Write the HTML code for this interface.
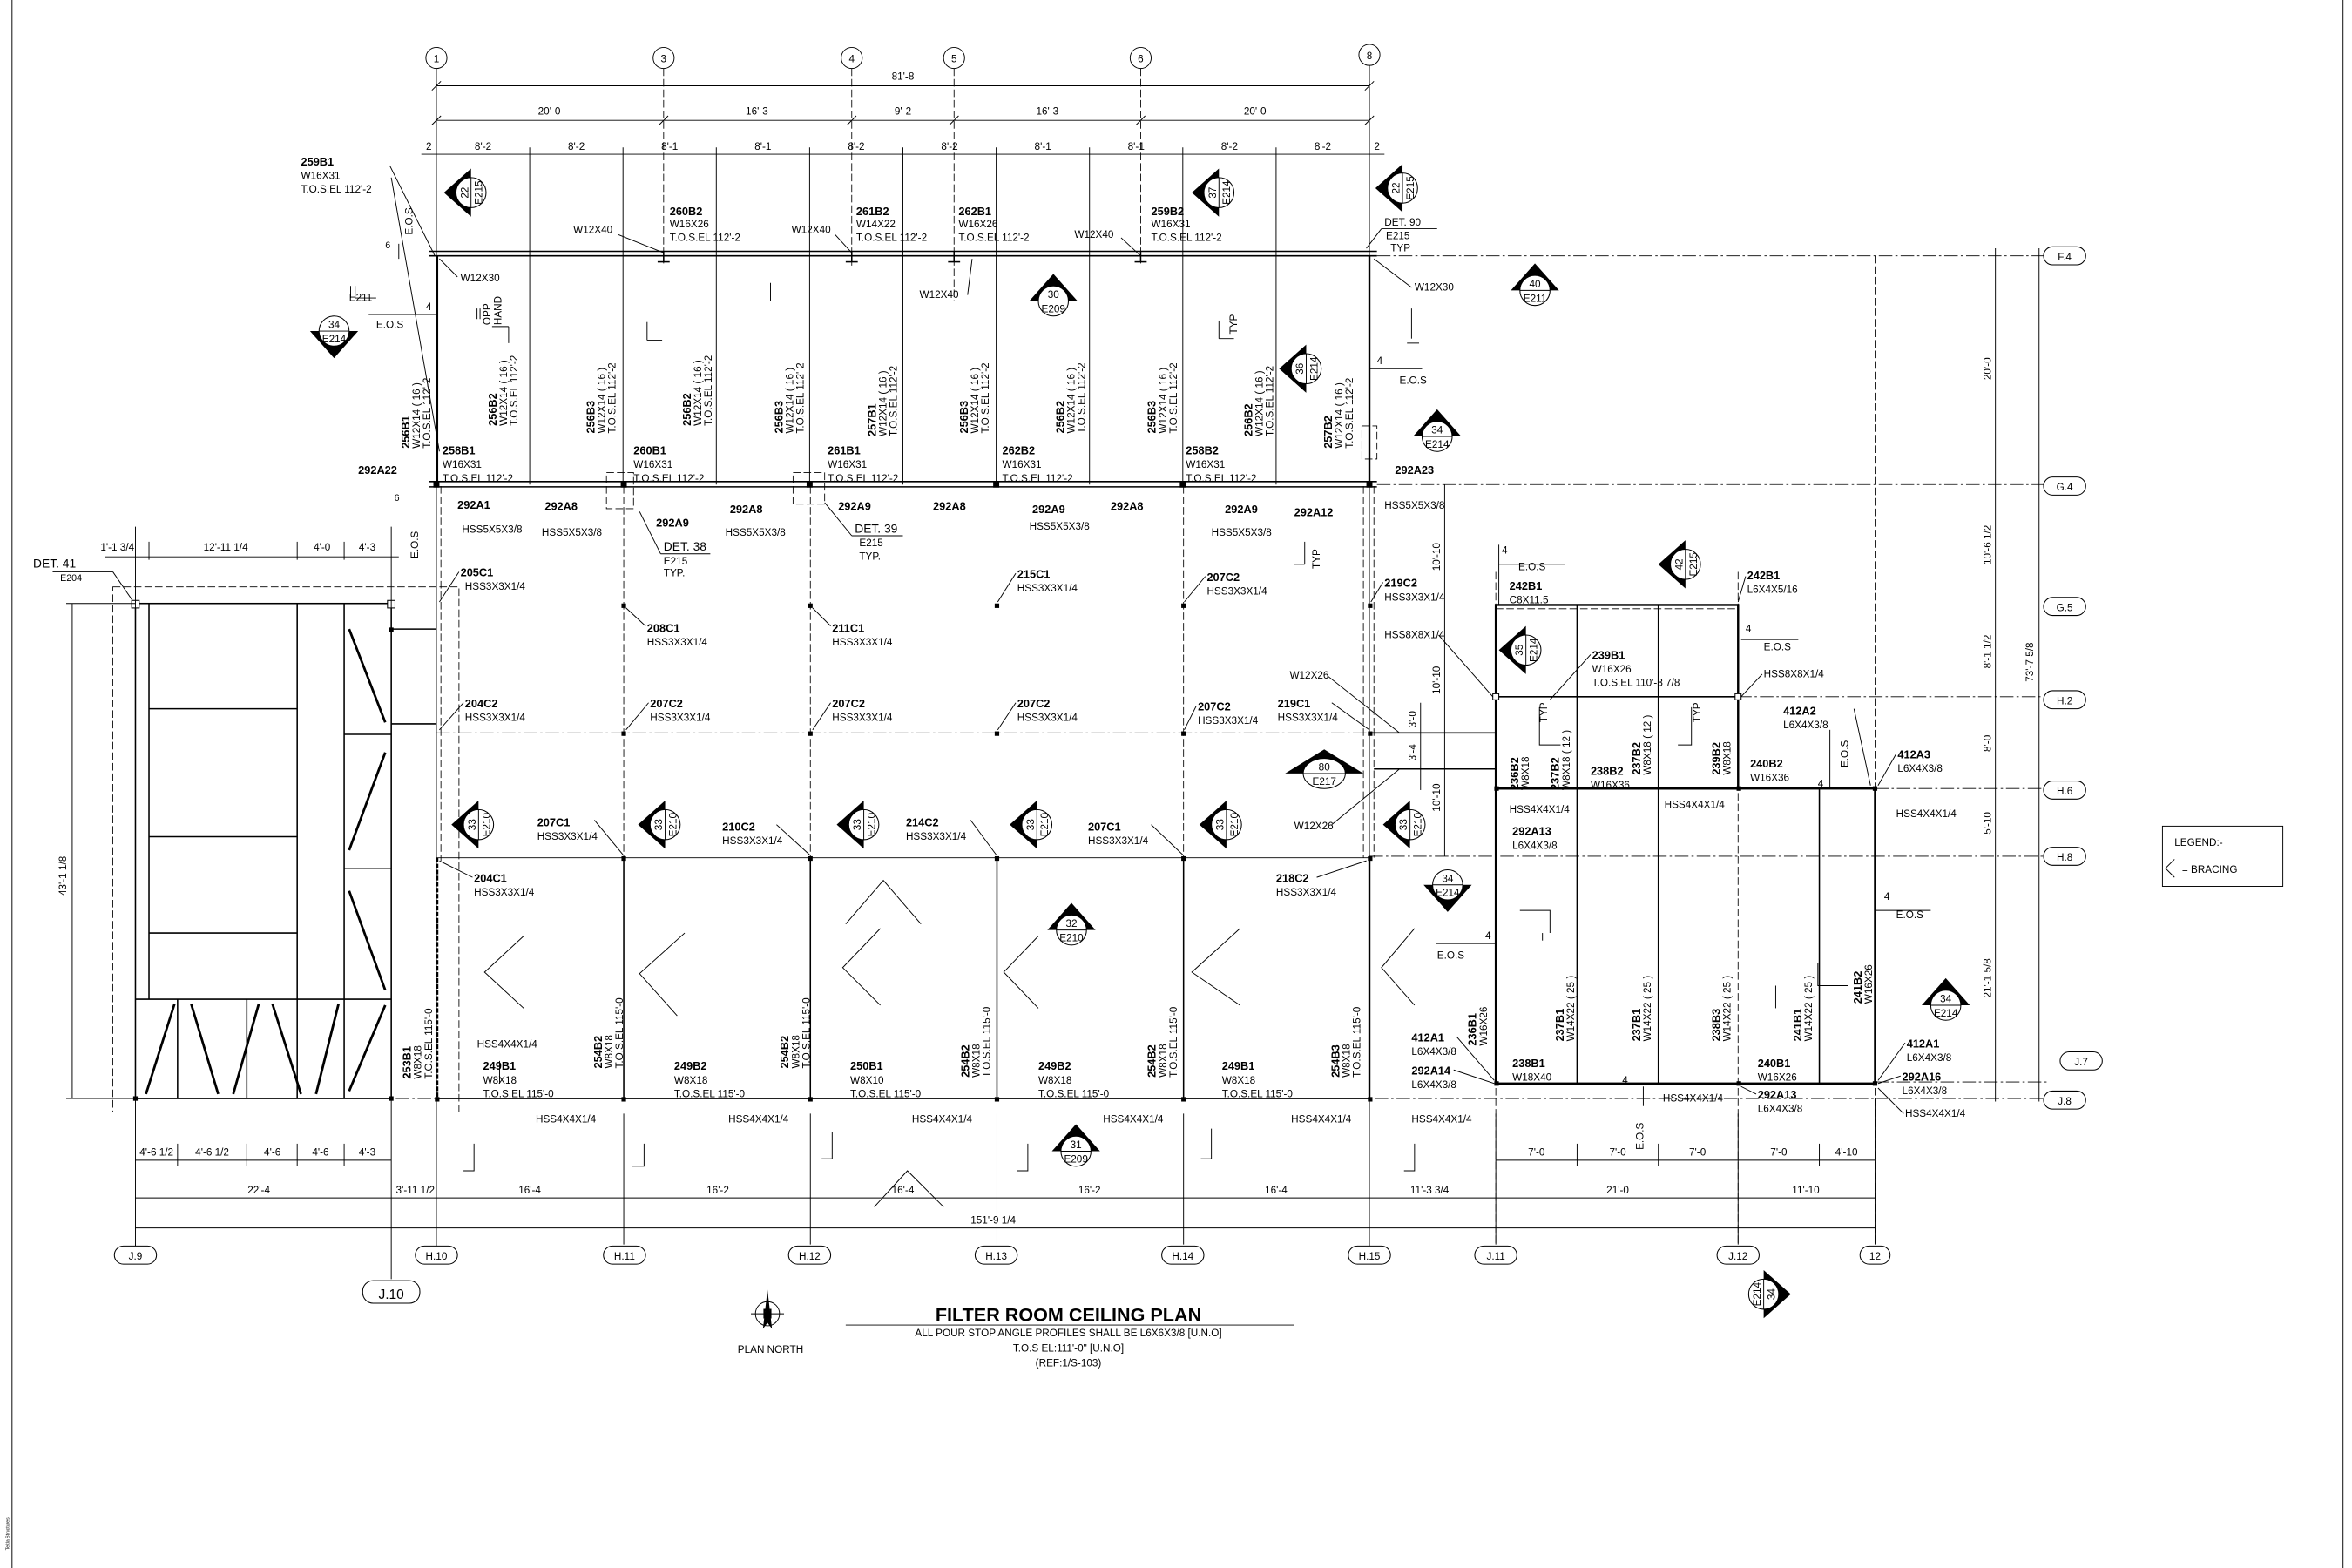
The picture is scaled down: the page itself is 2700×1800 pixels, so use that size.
<!DOCTYPE html>
<html><head><meta charset="utf-8">
<style>
html,body{margin:0;padding:0;background:#fff;}
svg{display:block;}
text{font-family:"Liberation Sans Narrow","Liberation Sans",sans-serif;fill:#000;}
.t{font-size:6.8px;}
.b{font-size:7.4px;font-weight:bold;}
.s{font-size:6.2px;}
.k{stroke:#000;fill:none;stroke-width:0.55;}
.h{stroke:#000;fill:none;stroke-width:1.4;}
.m{stroke:#000;fill:none;stroke-width:0.9;}
.d{stroke:#000;fill:none;stroke-width:0.5;stroke-dasharray:5 2;}
.dd{stroke:#000;fill:none;stroke-width:0.5;stroke-dasharray:9 2 1.5 2;}
.bub{fill:#fff;stroke:#000;stroke-width:0.6;}
</style></head>
<body>
<svg width="2700" height="1800" viewBox="0 0 2700 1800" xmlns="http://www.w3.org/2000/svg">
<rect width="2700" height="1800" fill="#fff"/>
<g transform="scale(1.7275)">
<line class="k" x1="8" y1="0" x2="8" y2="1042"/>
<line class="k" x1="1557" y1="0" x2="1557" y2="1042"/>
<text class="s" transform="translate(6,1030) rotate(-90)" style="font-size:3px">Tekla Structures</text>

<g class="k">
<circle cx="290" cy="38.5" r="7"/><circle cx="441" cy="38.5" r="7"/><circle cx="566" cy="38.5" r="7"/>
<circle cx="634" cy="38.5" r="7"/><circle cx="758" cy="38.5" r="7"/><circle cx="910" cy="36.5" r="7"/>
<line x1="290" y1="45.5" x2="290" y2="840"/>
<line x1="910" y1="43.5" x2="910" y2="840"/>
</g>
<g class="d">
<line x1="441" y1="45.5" x2="441" y2="175"/><line x1="566" y1="45.5" x2="566" y2="178"/>
<line x1="634" y1="45.5" x2="634" y2="200"/><line x1="758" y1="45.5" x2="758" y2="175"/>
</g>
<g class="t" text-anchor="middle">
<text x="290" y="41.5">1</text><text x="441" y="41.5">3</text><text x="566" y="41.5">4</text>
<text x="634" y="41.5">5</text><text x="758" y="41.5">6</text><text x="910" y="39.5">8</text>
</g>
<g class="k">
<line x1="290" y1="57" x2="910" y2="57"/>
<line x1="290" y1="80" x2="910" y2="80"/>
<line x1="280" y1="102.5" x2="920" y2="102.5"/>
<line x1="287" y1="60" x2="293" y2="54"/><line x1="907" y1="60" x2="913" y2="54"/>
<line x1="287" y1="83" x2="293" y2="77"/><line x1="438" y1="83" x2="444" y2="77"/><line x1="563" y1="83" x2="569" y2="77"/><line x1="631" y1="83" x2="637" y2="77"/><line x1="755" y1="83" x2="761" y2="77"/><line x1="907" y1="83" x2="913" y2="77"/>
</g>
<g class="t" text-anchor="middle">
<text x="600" y="53">81'-8</text>
<text x="365" y="76">20'-0</text><text x="503" y="76">16'-3</text><text x="600" y="76">9'-2</text><text x="696" y="76">16'-3</text><text x="834" y="76">20'-0</text>
<text x="321" y="99.5">8'-2</text><text x="383" y="99.5">8'-2</text><text x="445" y="99.5">8'-1</text><text x="507" y="99.5">8'-1</text><text x="569" y="99.5">8'-2</text><text x="631" y="99.5">8'-2</text><text x="693" y="99.5">8'-1</text><text x="755" y="99.5">8'-1</text><text x="817" y="99.5">8'-2</text><text x="879" y="99.5">8'-2</text>
<text x="285" y="99.5">2</text><text x="915" y="99.5">2</text>
</g>

<g class="k">
<line x1="352" y1="98" x2="352" y2="322"/><line x1="414" y1="98" x2="414" y2="322"/><line x1="476" y1="98" x2="476" y2="322"/>
<line x1="538" y1="98" x2="538" y2="322"/><line x1="600" y1="98" x2="600" y2="322"/><line x1="662" y1="98" x2="662" y2="322"/>
<line x1="724" y1="98" x2="724" y2="322"/><line x1="786" y1="98" x2="786" y2="322"/><line x1="848" y1="98" x2="848" y2="322"/>
</g>
<g class="m">
<line x1="285" y1="167" x2="915" y2="167"/><line x1="285" y1="170" x2="915" y2="170"/>
<line x1="285" y1="320" x2="915" y2="320"/><line x1="285" y1="323.5" x2="915" y2="323.5"/>
</g>
<g class="h"><line x1="290.5" y1="170" x2="290.5" y2="323"/><line x1="910" y1="170" x2="910" y2="323"/></g>
<g class="m">
<line x1="441" y1="167" x2="441" y2="174"/><line x1="437" y1="174" x2="445" y2="174"/>
<line x1="566" y1="167" x2="566" y2="174"/><line x1="562" y1="174" x2="570" y2="174"/>
<line x1="634" y1="167" x2="634" y2="174"/><line x1="630" y1="174" x2="638" y2="174"/>
<line x1="758" y1="167" x2="758" y2="174"/><line x1="754" y1="174" x2="762" y2="174"/>
</g>
<g class="dd">
<line x1="915" y1="170" x2="1362" y2="170"/>
<line x1="915" y1="322" x2="1362" y2="322"/>
<line x1="290" y1="402" x2="1362" y2="402"/>
<line x1="1155" y1="463" x2="1362" y2="463"/>
<line x1="1246" y1="524" x2="1362" y2="524"/>
<line x1="910" y1="569" x2="1362" y2="569"/>
<line x1="290" y1="730" x2="1362" y2="730"/>
<line x1="1246" y1="719" x2="1362" y2="719"/>
<line x1="290" y1="487" x2="910" y2="487"/>
</g>
<g class="d"><line x1="1246" y1="170" x2="1246" y2="840"/><line x1="994" y1="380" x2="994" y2="840"/><line x1="1155" y1="380" x2="1155" y2="840"/></g>
<g class="k"><line x1="290" y1="570" x2="910" y2="570"/></g>

<g class="b"><text x="200" y="110">259B1</text></g>
<g class="t"><text x="200" y="119">W16X31</text><text x="200" y="128">T.O.S.EL 112'-2</text></g>
<line class="k" x1="260" y1="118" x2="292" y2="300"/>
<line class="k" x1="259" y1="110" x2="289" y2="170"/>
<text class="t" transform="translate(274,147) rotate(-90)" text-anchor="middle">E.O.S</text>
<line class="k" x1="265" y1="162" x2="265" y2="172"/><text class="s" x="256" y="165">6</text>

<g class="t">
<text x="381" y="155">W12X40</text><text x="526" y="155">W12X40</text><text x="714" y="158">W12X40</text><text x="611" y="198">W12X40</text>
<text x="306" y="187">W12X30</text><text x="940" y="193">W12X30</text>
<text x="445" y="151">W16X26</text><text x="445" y="160">T.O.S.EL 112'-2</text>
<text x="569" y="151">W14X22</text><text x="569" y="160">T.O.S.EL 112'-2</text>
<text x="637" y="151">W16X26</text><text x="637" y="160">T.O.S.EL 112'-2</text>
<text x="765" y="151">W16X31</text><text x="765" y="160">T.O.S.EL 112'-2</text>
<text x="921" y="159">E215</text><text x="924" y="167">TYP</text>
</g>
<g class="b"><text x="445" y="143">260B2</text><text x="569" y="143">261B2</text><text x="637" y="143">262B1</text><text x="765" y="143">259B2</text></g>
<text class="t" x="920" y="150">DET. 90</text><line class="k" x1="918" y1="152" x2="955" y2="152"/><line class="k" x1="918" y1="152" x2="908" y2="165"/>
<g class="k"><line x1="411" y1="156" x2="441" y2="168"/><line x1="555" y1="156" x2="566" y2="168"/><line x1="745" y1="158" x2="758" y2="170"/><line x1="643" y1="196" x2="646" y2="172"/><line x1="304" y1="184" x2="292" y2="172"/><line x1="938" y1="191" x2="913" y2="172"/></g>

<g transform="translate(313,128) rotate(-90)"><path d="M0,-18 L-16,0 L16,0Z"/><circle r="10" class="bub"/><line class="k" x1="-10" y1="0" x2="10" y2="0"/><text class="t" text-anchor="middle" y="-2">22</text><text class="t" text-anchor="middle" y="7.5">E215</text></g>
<g transform="translate(810,128) rotate(-90)"><path d="M0,-18 L-16,0 L16,0Z"/><circle r="10" class="bub"/><line class="k" x1="-10" y1="0" x2="10" y2="0"/><text class="t" text-anchor="middle" y="-2">37</text><text class="t" text-anchor="middle" y="7.5">E214</text></g>
<g transform="translate(932,125) rotate(-90)"><path d="M0,-18 L-16,0 L16,0Z"/><circle r="10" class="bub"/><line class="k" x1="-10" y1="0" x2="10" y2="0"/><text class="t" text-anchor="middle" y="-2">22</text><text class="t" text-anchor="middle" y="7.5">E215</text></g>
<g transform="translate(700,200)"><path d="M0,-18 L-16,0 L16,0Z"/><circle r="10" class="bub"/><line class="k" x1="-10" y1="0" x2="10" y2="0"/><text class="t" text-anchor="middle" y="-2">30</text><text class="t" text-anchor="middle" y="7.5">E209</text></g>
<g transform="translate(1020,193)"><path d="M0,-18 L-16,0 L16,0Z"/><circle r="10" class="bub"/><line class="k" x1="-10" y1="0" x2="10" y2="0"/><text class="t" text-anchor="middle" y="-2">40</text><text class="t" text-anchor="middle" y="7.5">E211</text></g>
<g transform="translate(222,220)"><path d="M0,-18 L-16,0 L16,0Z" transform="scale(1,-1)"/><circle r="10" class="bub"/><line class="k" x1="-10" y1="0" x2="10" y2="0"/><text class="t" text-anchor="middle" y="-2">34</text><text class="t" text-anchor="middle" y="7.5">E214</text></g>
<g transform="translate(868,245) rotate(-90)"><path d="M0,-18 L-16,0 L16,0Z"/><circle r="10" class="bub"/><line class="k" x1="-10" y1="0" x2="10" y2="0"/><text class="t" text-anchor="middle" y="-2">36</text><text class="t" text-anchor="middle" y="7.5">E214</text></g>
<g transform="translate(955,290)"><path d="M0,-18 L-16,0 L16,0Z"/><circle r="10" class="bub"/><line class="k" x1="-10" y1="0" x2="10" y2="0"/><text class="t" text-anchor="middle" y="-2">34</text><text class="t" text-anchor="middle" y="7.5">E214</text></g>

<g class="t"><text x="232" y="200">E211</text><text x="250" y="218">E.O.S</text><text x="283" y="206">4</text><text x="930" y="255">E.O.S</text><text x="915" y="242">4</text></g>
<g class="k"><line x1="233" y1="190" x2="233" y2="198"/><line x1="236" y1="190" x2="236" y2="198"/><line x1="236" y1="198" x2="250" y2="198"/><line x1="245" y1="209" x2="290" y2="209"/><line x1="910" y1="245" x2="945" y2="245"/></g>
<text class="t" transform="translate(326,216) rotate(-90)">OPP</text><text class="t" transform="translate(333,216) rotate(-90)">HAND</text>
<g class="k"><line x1="317" y1="205" x2="317" y2="212"/><line x1="319" y1="205" x2="319" y2="212"/><line x1="327" y1="217" x2="338" y2="217"/><line x1="338" y1="217" x2="338" y2="228"/><line x1="430" y1="214" x2="430" y2="226"/><line x1="430" y1="226" x2="440" y2="226"/><line x1="810" y1="213" x2="810" y2="225"/><line x1="810" y1="225" x2="820" y2="225"/><line x1="938" y1="205" x2="938" y2="225"/><line x1="935" y1="228" x2="943" y2="228"/></g>
<text class="t" transform="translate(822,222) rotate(-90)">TYP</text>

<g>
<g transform="translate(272,298) rotate(-90)"><text class="b">256B1</text><text class="t" y="7">W12X14 ( 16 )</text><text class="t" y="14">T.O.S.EL 112'-2</text></g>
<g transform="translate(330,283) rotate(-90)"><text class="b">256B2</text><text class="t" y="7">W12X14 ( 16 )</text><text class="t" y="14">T.O.S.EL 112'-2</text></g>
<g transform="translate(395,288) rotate(-90)"><text class="b">256B3</text><text class="t" y="7">W12X14 ( 16 )</text><text class="t" y="14">T.O.S.EL 112'-2</text></g>
<g transform="translate(459,283) rotate(-90)"><text class="b">256B2</text><text class="t" y="7">W12X14 ( 16 )</text><text class="t" y="14">T.O.S.EL 112'-2</text></g>
<g transform="translate(520,288) rotate(-90)"><text class="b">256B3</text><text class="t" y="7">W12X14 ( 16 )</text><text class="t" y="14">T.O.S.EL 112'-2</text></g>
<g transform="translate(582,290) rotate(-90)"><text class="b">257B1</text><text class="t" y="7">W12X14 ( 16 )</text><text class="t" y="14">T.O.S.EL 112'-2</text></g>
<g transform="translate(643,288) rotate(-90)"><text class="b">256B3</text><text class="t" y="7">W12X14 ( 16 )</text><text class="t" y="14">T.O.S.EL 112'-2</text></g>
<g transform="translate(707,288) rotate(-90)"><text class="b">256B2</text><text class="t" y="7">W12X14 ( 16 )</text><text class="t" y="14">T.O.S.EL 112'-2</text></g>
<g transform="translate(768,288) rotate(-90)"><text class="b">256B3</text><text class="t" y="7">W12X14 ( 16 )</text><text class="t" y="14">T.O.S.EL 112'-2</text></g>
<g transform="translate(832,290) rotate(-90)"><text class="b">256B2</text><text class="t" y="7">W12X14 ( 16 )</text><text class="t" y="14">T.O.S.EL 112'-2</text></g>
<g transform="translate(885,298) rotate(-90)"><text class="b">257B2</text><text class="t" y="7">W12X14 ( 16 )</text><text class="t" y="14">T.O.S.EL 112'-2</text></g>
</g>

<g class="b"><text x="294" y="302">258B1</text><text x="421" y="302">260B1</text><text x="550" y="302">261B1</text><text x="666" y="302">262B2</text><text x="788" y="302">258B2</text><text x="238" y="315">292A22</text><text x="927" y="315">292A23</text></g>
<g class="t">
<text x="294" y="311">W16X31</text><text x="294" y="320">T.O.S.EL 112'-2</text>
<text x="421" y="311">W16X31</text><text x="421" y="320">T.O.S.EL 112'-2</text>
<text x="550" y="311">W16X31</text><text x="550" y="320">T.O.S.EL 112'-2</text>
<text x="666" y="311">W16X31</text><text x="666" y="320">T.O.S.EL 112'-2</text>
<text x="788" y="311">W16X31</text><text x="788" y="320">T.O.S.EL 112'-2</text>
</g>
<g class="b"><text x="304" y="338">292A1</text><text x="362" y="339">292A8</text><text x="436" y="350">292A9</text><text x="485" y="341">292A8</text><text x="557" y="339">292A9</text><text x="620" y="339">292A8</text><text x="686" y="341">292A9</text><text x="738" y="339">292A8</text><text x="814" y="341">292A9</text><text x="860" y="343">292A12</text></g>
<g class="t">
<text x="307" y="354">HSS5X5X3/8</text><text x="360" y="356">HSS5X5X3/8</text><text x="482" y="356">HSS5X5X3/8</text><text x="684" y="352">HSS5X5X3/8</text><text x="805" y="356">HSS5X5X3/8</text><text x="920" y="338">HSS5X5X3/8</text>
<text x="441" y="366" style="font-size:8px">DET. 38</text><text x="441" y="375">E215</text><text x="441" y="383">TYP.</text>
<text x="568" y="354" style="font-size:8px">DET. 39</text><text x="571" y="363">E215</text><text x="571" y="372">TYP.</text>
</g>
<g class="k"><line x1="439" y1="368" x2="472" y2="368"/><line x1="566" y1="356" x2="600" y2="356"/><line x1="439" y1="368" x2="425" y2="340"/><line x1="566" y1="356" x2="548" y2="334"/>
<rect x="403" y="314" width="18" height="24" class="d"/><rect x="527" y="314" width="21" height="21" class="d"/><rect x="905" y="283" width="10" height="22" class="d"/></g>
<text class="t" transform="translate(278,362) rotate(-90)" text-anchor="middle">E.O.S</text><text class="s" x="262" y="333">6</text>
<text class="t" transform="translate(877,378) rotate(-90)">TYP</text>
<g class="k"><line x1="867" y1="360" x2="867" y2="375"/><line x1="860" y1="375" x2="867" y2="375"/></g>

<g fill="#000">
<rect x="288" y="320" width="4" height="4"/><rect x="412.5" y="320" width="4" height="4"/><rect x="536" y="320" width="4" height="4"/><rect x="660" y="320" width="4" height="4"/><rect x="784" y="320" width="4" height="4"/><rect x="908" y="320" width="4" height="4"/>
<rect x="413" y="401" width="3" height="3"/><rect x="537" y="401" width="3" height="3"/><rect x="661" y="401" width="3" height="3"/><rect x="785" y="401" width="3" height="3"/><rect x="909" y="401" width="3" height="3"/>
<rect x="413" y="486" width="3" height="3"/><rect x="537" y="486" width="3" height="3"/><rect x="661" y="486" width="3" height="3"/><rect x="785" y="486" width="3" height="3"/><rect x="909" y="486" width="3" height="3"/>
<rect x="413" y="569" width="3" height="3"/><rect x="537" y="569" width="3" height="3"/><rect x="661" y="569" width="3" height="3"/><rect x="785" y="569" width="3" height="3"/><rect x="909" y="569" width="3" height="3"/>
<rect x="413" y="729" width="3" height="3"/><rect x="537" y="729" width="3" height="3"/><rect x="661" y="729" width="3" height="3"/><rect x="785" y="729" width="3" height="3"/><rect x="909" y="729" width="3" height="3"/><rect x="289" y="729" width="3" height="3"/>
</g>

<g class="d">
<line x1="414.5" y1="323" x2="414.5" y2="570"/><line x1="538.5" y1="323" x2="538.5" y2="570"/><line x1="662.5" y1="323" x2="662.5" y2="570"/><line x1="786.5" y1="323" x2="786.5" y2="570"/>
<line x1="293" y1="323" x2="293" y2="572"/><line x1="906" y1="323" x2="906" y2="570"/><line x1="913" y1="323" x2="913" y2="570"/>
</g>
<g class="m">
<line x1="290" y1="730" x2="910" y2="730"/>
<line x1="414.5" y1="570" x2="414.5" y2="730"/><line x1="538.5" y1="570" x2="538.5" y2="730"/><line x1="662.5" y1="570" x2="662.5" y2="730"/><line x1="786.5" y1="570" x2="786.5" y2="730"/>
</g>
<g class="h"><line x1="910" y1="570" x2="910" y2="730"/></g>
<line x1="290.5" y1="570" x2="290.5" y2="730" stroke="#000" stroke-width="1.6" stroke-dasharray="3 1"/>

<g class="b">
<text x="306" y="383">205C1</text><text x="430" y="420">208C1</text><text x="553" y="420">211C1</text><text x="676" y="384">215C1</text><text x="802" y="386">207C2</text><text x="920" y="390">219C2</text>
<text x="309" y="470">204C2</text><text x="432" y="470">207C2</text><text x="553" y="470">207C2</text><text x="676" y="470">207C2</text><text x="796" y="472">207C2</text><text x="849" y="470">219C1</text>
<text x="357" y="549">207C1</text><text x="480" y="552">210C2</text><text x="602" y="549">214C2</text><text x="723" y="552">207C1</text>
<text x="315" y="586">204C1</text><text x="848" y="586">218C2</text>
</g>
<g class="t">
<text x="309" y="392">HSS3X3X1/4</text><text x="430" y="429">HSS3X3X1/4</text><text x="553" y="429">HSS3X3X1/4</text><text x="676" y="393">HSS3X3X1/4</text><text x="802" y="395">HSS3X3X1/4</text><text x="920" y="399">HSS3X3X1/4</text>
<text x="309" y="479">HSS3X3X1/4</text><text x="432" y="479">HSS3X3X1/4</text><text x="553" y="479">HSS3X3X1/4</text><text x="676" y="479">HSS3X3X1/4</text><text x="796" y="481">HSS3X3X1/4</text><text x="849" y="479">HSS3X3X1/4</text>
<text x="357" y="558">HSS3X3X1/4</text><text x="480" y="561">HSS3X3X1/4</text><text x="602" y="558">HSS3X3X1/4</text><text x="723" y="561">HSS3X3X1/4</text>
<text x="315" y="595">HSS3X3X1/4</text><text x="848" y="595">HSS3X3X1/4</text>
<text x="857" y="451">W12X26</text><text x="860" y="551">W12X26</text><text x="920" y="424">HSS8X8X1/4</text>
</g>
<g class="k">
<line x1="305" y1="380" x2="292" y2="400"/><line x1="429" y1="416" x2="416" y2="404"/><line x1="552" y1="416" x2="540" y2="404"/><line x1="675" y1="381" x2="663" y2="400"/><line x1="801" y1="383" x2="787" y2="400"/><line x1="919" y1="387" x2="911" y2="400"/>
<line x1="308" y1="467" x2="292" y2="485"/><line x1="431" y1="467" x2="416" y2="485"/><line x1="552" y1="467" x2="540" y2="485"/><line x1="675" y1="467" x2="663" y2="485"/><line x1="795" y1="469" x2="787" y2="485"/><line x1="885" y1="467" x2="910" y2="485"/>
<line x1="882" y1="449" x2="930" y2="487"/><line x1="885" y1="548" x2="930" y2="511"/><line x1="956" y1="422" x2="992" y2="463"/>
<line x1="395" y1="545" x2="414" y2="568"/><line x1="516" y1="548" x2="538" y2="568"/><line x1="645" y1="545" x2="662" y2="568"/><line x1="765" y1="548" x2="786" y2="568"/>
<line x1="314" y1="583" x2="292" y2="572"/><line x1="875" y1="583" x2="908" y2="572"/>
</g>
<g class="m"><line x1="910" y1="487" x2="994" y2="487"/><line x1="913" y1="511" x2="994" y2="511"/></g>
<g class="k"><line x1="960" y1="322" x2="960" y2="569"/><line x1="944" y1="467" x2="944" y2="525"/></g>
<g class="t">
<text transform="translate(957,370) rotate(-90)" text-anchor="middle">10'-10</text>
<text transform="translate(957,452) rotate(-90)" text-anchor="middle">10'-10</text>
<text transform="translate(957,530) rotate(-90)" text-anchor="middle">10'-10</text>
<text transform="translate(941,478) rotate(-90)" text-anchor="middle">3'-0</text>
<text transform="translate(941,500) rotate(-90)" text-anchor="middle">3'-4</text>
</g>
<g transform="translate(318,548) rotate(-90)"><path d="M0,-18 L-16,0 L16,0Z"/><circle r="10" class="bub"/><line class="k" x1="-10" y1="0" x2="10" y2="0"/><text class="t" text-anchor="middle" y="-2">33</text><text class="t" text-anchor="middle" y="7.5">E210</text></g>
<g transform="translate(442,548) rotate(-90)"><path d="M0,-18 L-16,0 L16,0Z"/><circle r="10" class="bub"/><line class="k" x1="-10" y1="0" x2="10" y2="0"/><text class="t" text-anchor="middle" y="-2">33</text><text class="t" text-anchor="middle" y="7.5">E210</text></g>
<g transform="translate(574,548) rotate(-90)"><path d="M0,-18 L-16,0 L16,0Z"/><circle r="10" class="bub"/><line class="k" x1="-10" y1="0" x2="10" y2="0"/><text class="t" text-anchor="middle" y="-2">33</text><text class="t" text-anchor="middle" y="7.5">E210</text></g>
<g transform="translate(689,548) rotate(-90)"><path d="M0,-18 L-16,0 L16,0Z"/><circle r="10" class="bub"/><line class="k" x1="-10" y1="0" x2="10" y2="0"/><text class="t" text-anchor="middle" y="-2">33</text><text class="t" text-anchor="middle" y="7.5">E210</text></g>
<g transform="translate(815,548) rotate(-90)"><path d="M0,-18 L-16,0 L16,0Z"/><circle r="10" class="bub"/><line class="k" x1="-10" y1="0" x2="10" y2="0"/><text class="t" text-anchor="middle" y="-2">33</text><text class="t" text-anchor="middle" y="7.5">E210</text></g>
<g transform="translate(937,548) rotate(-90)"><path d="M0,-18 L-16,0 L16,0Z"/><circle r="10" class="bub"/><line class="k" x1="-10" y1="0" x2="10" y2="0"/><text class="t" text-anchor="middle" y="-2">33</text><text class="t" text-anchor="middle" y="7.5">E210</text></g>
<g transform="translate(880,514)"><path d="M0,-16 L-26,0 L26,0Z"/><ellipse rx="14" ry="10" class="bub"/><line class="k" x1="-14" y1="0" x2="14" y2="0"/><text class="t" text-anchor="middle" y="-2">80</text><text class="t" text-anchor="middle" y="7.5">E217</text></g>
<g transform="translate(712,618)"><path d="M0,-18 L-16,0 L16,0Z"/><circle r="10" class="bub"/><line class="k" x1="-10" y1="0" x2="10" y2="0"/><text class="t" text-anchor="middle" y="-2">32</text><text class="t" text-anchor="middle" y="7.5">E210</text></g>
<g transform="translate(715,765)"><path d="M0,-18 L-16,0 L16,0Z"/><circle r="10" class="bub"/><line class="k" x1="-10" y1="0" x2="10" y2="0"/><text class="t" text-anchor="middle" y="-2">31</text><text class="t" text-anchor="middle" y="7.5">E209</text></g>
<g transform="translate(962,588)"><path d="M0,-18 L-16,0 L16,0Z" transform="scale(1,-1)"/><circle r="10" class="bub"/><line class="k" x1="-10" y1="0" x2="10" y2="0"/><text class="t" text-anchor="middle" y="-2">34</text><text class="t" text-anchor="middle" y="7.5">E214</text></g>

<g class="k">
<polyline points="348,622 322,646 348,670"/><polyline points="455,620 425,647 450,675"/><polyline points="585,617 560,643 585,668"/><polyline points="690,622 667,646 690,670"/><polyline points="824,617 792,646 824,668"/><polyline points="940,617 918,643 940,668"/>
<polyline points="562,614 587,585 612,614"/><polyline points="581,802 603,778 627,802"/>
<line x1="332" y1="720" x2="332" y2="705"/>
<polyline points="428,760 428,775 420,775"/><polyline points="553,752 553,770 546,770"/><polyline points="683,760 683,778 676,778"/><polyline points="805,750 805,770 798,770"/><polyline points="940,760 940,778 933,778"/><polyline points="315,760 315,778 308,778"/>
<polyline points="512,188 512,200 525,200"/>
</g>

<g>
<g transform="translate(273,717) rotate(-90)"><text class="b">253B1</text><text class="t" y="7">W8X18</text><text class="t" y="14">T.O.S.EL 115'-0</text></g>
<g transform="translate(400,710) rotate(-90)"><text class="b">254B2</text><text class="t" y="7">W8X18</text><text class="t" y="14">T.O.S.EL 115'-0</text></g>
<g transform="translate(524,710) rotate(-90)"><text class="b">254B2</text><text class="t" y="7">W8X18</text><text class="t" y="14">T.O.S.EL 115'-0</text></g>
<g transform="translate(644,716) rotate(-90)"><text class="b">254B2</text><text class="t" y="7">W8X18</text><text class="t" y="14">T.O.S.EL 115'-0</text></g>
<g transform="translate(768,716) rotate(-90)"><text class="b">254B2</text><text class="t" y="7">W8X18</text><text class="t" y="14">T.O.S.EL 115'-0</text></g>
<g transform="translate(890,716) rotate(-90)"><text class="b">254B3</text><text class="t" y="7">W8X18</text><text class="t" y="14">T.O.S.EL 115'-0</text></g>
</g>
<g class="b"><text x="321" y="711">249B1</text><text x="448" y="711">249B2</text><text x="565" y="711">250B1</text><text x="690" y="711">249B2</text><text x="812" y="711">249B1</text></g>
<g class="t">
<text x="321" y="720">W8X18</text><text x="321" y="729">T.O.S.EL 115'-0</text>
<text x="448" y="720">W8X18</text><text x="448" y="729">T.O.S.EL 115'-0</text>
<text x="565" y="720">W8X10</text><text x="565" y="729">T.O.S.EL 115'-0</text>
<text x="690" y="720">W8X18</text><text x="690" y="729">T.O.S.EL 115'-0</text>
<text x="812" y="720">W8X18</text><text x="812" y="729">T.O.S.EL 115'-0</text>
<text x="317" y="696">HSS4X4X1/4</text><text x="356" y="746">HSS4X4X1/4</text><text x="484" y="746">HSS4X4X1/4</text><text x="606" y="746">HSS4X4X1/4</text><text x="733" y="746">HSS4X4X1/4</text><text x="858" y="746">HSS4X4X1/4</text><text x="938" y="746">HSS4X4X1/4</text>
</g>

<g class="m">
<rect x="90" y="401" width="170" height="329"/>
<line x1="99" y1="401" x2="99" y2="664"/><line x1="197.5" y1="401" x2="197.5" y2="664"/><line x1="228.7" y1="401" x2="228.7" y2="730"/>
<line x1="99" y1="471" x2="197.5" y2="471"/><line x1="99" y1="556" x2="197.5" y2="556"/><line x1="99" y1="620" x2="197.5" y2="620"/>
<line x1="90" y1="664" x2="260" y2="664"/><line x1="228.7" y1="488" x2="260" y2="488"/><line x1="228.7" y1="577" x2="260" y2="577"/>
<line x1="118" y1="664" x2="118" y2="730"/><line x1="164" y1="664" x2="164" y2="730"/><line x1="197.5" y1="664" x2="197.5" y2="730"/>
<line x1="260" y1="418" x2="290" y2="418"/><line x1="260" y1="481" x2="290" y2="481"/>
</g>
<g stroke="#000" stroke-width="1.6" fill="none">
<line x1="232" y1="418" x2="256" y2="480"/><line x1="232" y1="565" x2="256" y2="500"/><line x1="232" y1="592" x2="256" y2="658"/>
<line x1="232" y1="725" x2="256" y2="668"/>
<line x1="97" y1="727" x2="116" y2="667"/><line x1="127" y1="667" x2="145" y2="727"/><line x1="155" y1="727" x2="172" y2="667"/><line x1="181" y1="667" x2="200" y2="727"/><line x1="210" y1="727" x2="225" y2="667"/>
</g>
<g fill="#fff" stroke="#000" stroke-width="0.6"><rect x="87.5" y="399" width="5" height="5"/><rect x="257.5" y="399" width="5" height="5"/></g>
<g fill="#000"><rect x="88.5" y="728.5" width="3" height="3"/><rect x="258.5" y="728.5" width="3" height="3"/><rect x="258.5" y="417" width="3" height="3"/></g>
<rect class="d" x="75" y="390" width="230" height="349"/>
<line class="dd" x1="60" y1="402" x2="290" y2="402"/><line class="dd" x1="60" y1="730" x2="290" y2="730"/>
<line class="k" x1="90" y1="350" x2="90" y2="840"/><line class="k" x1="260" y1="350" x2="260" y2="850"/>
<g class="k"><line x1="70" y1="370" x2="265" y2="370"/><line x1="99" y1="360" x2="99" y2="372"/><line x1="197.5" y1="360" x2="197.5" y2="372"/><line x1="228.7" y1="360" x2="228.7" y2="372"/><line x1="35" y1="380" x2="75" y2="380"/><line x1="75" y1="380" x2="88" y2="399"/><line x1="48" y1="401" x2="48" y2="730"/><line x1="44" y1="401" x2="90" y2="401"/><line x1="44" y1="730" x2="90" y2="730"/></g>
<g class="t" text-anchor="middle"><text x="78" y="366">1'-1 3/4</text><text x="150" y="366">12'-11 1/4</text><text x="214" y="366">4'-0</text><text x="244" y="366">4'-3</text></g>
<text x="22" y="377" style="font-size:8px" class="t">DET. 41</text><text class="s" x="40" y="386">E204</text>
<text class="t" transform="translate(44,582) rotate(-90)" text-anchor="middle">43'-1 1/8</text>

<g class="h">
<rect x="994" y="402" width="161" height="122"/>
<rect x="994" y="524" width="252" height="196"/>
</g>
<g class="m">
<line x1="1048" y1="402" x2="1048" y2="720"/><line x1="1102" y1="402" x2="1102" y2="720"/><line x1="1209" y1="524" x2="1209" y2="720"/>
<line x1="994" y1="463" x2="1155" y2="463"/>
</g>
<line class="d" x1="994" y1="404.5" x2="1155" y2="404.5"/>
<g fill="#fff" stroke="#000" stroke-width="0.6"><rect x="992" y="461" width="4" height="4"/><rect x="1153" y="461" width="4" height="4"/></g>
<g fill="#000"><rect x="993" y="522.5" width="3" height="3"/><rect x="1154" y="522.5" width="3" height="3"/><rect x="1244.5" y="522.5" width="3" height="3"/><rect x="993" y="718.5" width="3" height="3"/><rect x="1154" y="718.5" width="3" height="3"/><rect x="1244.5" y="718.5" width="3" height="3"/></g>
<g transform="translate(1014,432) rotate(-90)"><path d="M0,-18 L-16,0 L16,0Z"/><circle r="10" class="bub"/><line class="k" x1="-10" y1="0" x2="10" y2="0"/><text class="t" text-anchor="middle" y="-2">35</text><text class="t" text-anchor="middle" y="7.5">E214</text></g>
<g transform="translate(1120,375) rotate(-90)"><path d="M0,-18 L-16,0 L16,0Z"/><circle r="10" class="bub"/><line class="k" x1="-10" y1="0" x2="10" y2="0"/><text class="t" text-anchor="middle" y="-2">42</text><text class="t" text-anchor="middle" y="7.5">E215</text></g>
<g transform="translate(1293,668)"><path d="M0,-18 L-16,0 L16,0Z"/><circle r="10" class="bub"/><line class="k" x1="-10" y1="0" x2="10" y2="0"/><text class="t" text-anchor="middle" y="-2">34</text><text class="t" text-anchor="middle" y="7.5">E214</text></g>
<g transform="translate(1172,860) rotate(-90)"><path d="M0,-18 L-16,0 L16,0Z" transform="scale(1,-1)"/><circle r="10" class="bub"/><line class="k" x1="-10" y1="0" x2="10" y2="0"/><text class="t" text-anchor="middle" y="-2">E214</text><text class="t" text-anchor="middle" y="7.5">34</text></g>
<g class="b"><text x="1003" y="392">242B1</text><text x="1161" y="385">242B1</text><text x="1058" y="438">239B1</text><text x="1185" y="475">412A2</text><text x="1261" y="504">412A3</text><text x="1163" y="510">240B2</text><text x="1057" y="515">238B2</text><text x="1005" y="555">292A13</text>
<text x="938" y="692">412A1</text><text x="938" y="714">292A14</text><text x="1005" y="709">238B1</text><text x="1168" y="709">240B1</text><text x="1267" y="696">412A1</text><text x="1264" y="718">292A16</text><text x="1168" y="730">292A13</text></g>
<g class="t"><text x="1003" y="401">C8X11.5</text><text x="1009" y="379">E.O.S</text><text x="998" y="368">4</text><text x="1161" y="394">L6X4X5/16</text>
<text x="1058" y="447">W16X26</text><text x="1058" y="456">T.O.S.EL 110'-3 7/8</text><text x="1172" y="432">E.O.S</text><text x="1160" y="420">4</text><text x="1172" y="450">HSS8X8X1/4</text>
<text x="1185" y="484">L6X4X3/8</text><text x="1261" y="513">L6X4X3/8</text><text x="1163" y="519">W16X36</text><text x="1057" y="524">W16X36</text><text x="1208" y="523">4</text>
<text x="1003" y="540">HSS4X4X1/4</text><text x="1106" y="537">HSS4X4X1/4</text><text x="1260" y="543">HSS4X4X1/4</text><text x="1005" y="564">L6X4X3/8</text>
<text x="1260" y="610">E.O.S</text><text x="1252" y="598">4</text><text x="955" y="637">E.O.S</text><text x="987" y="624">4</text>
<text x="938" y="701">L6X4X3/8</text><text x="938" y="723">L6X4X3/8</text><text x="1005" y="718">W18X40</text><text x="1168" y="718">W16X26</text><text x="1267" y="705">L6X4X3/8</text><text x="1264" y="727">L6X4X3/8</text><text x="1168" y="739">L6X4X3/8</text>
<text x="1105" y="732">HSS4X4X1/4</text><text x="1266" y="742">HSS4X4X1/4</text><text x="1078" y="720">4</text></g>
<text class="t" transform="translate(1228,510) rotate(-90)">E.O.S</text>
<text class="t" transform="translate(1092,755) rotate(-90)" text-anchor="middle">E.O.S</text>
<g transform="translate(1009,525) rotate(-90)"><text class="b">236B2</text><text class="t" y="7">W8X18</text></g>
<g transform="translate(1036,525) rotate(-90)"><text class="b">237B2</text><text class="t" y="7">W8X18 ( 12 )</text></g>
<g transform="translate(1090,515) rotate(-90)"><text class="b">237B2</text><text class="t" y="7">W8X18 ( 12 )</text></g>
<g transform="translate(1143,515) rotate(-90)"><text class="b">239B2</text><text class="t" y="7">W8X18</text></g>
<g transform="translate(981,695) rotate(-90)"><text class="b">236B1</text><text class="t" y="7">W16X26</text></g>
<g transform="translate(1039,692) rotate(-90)"><text class="b">237B1</text><text class="t" y="7">W14X22 ( 25 )</text></g>
<g transform="translate(1090,692) rotate(-90)"><text class="b">237B1</text><text class="t" y="7">W14X22 ( 25 )</text></g>
<g transform="translate(1143,692) rotate(-90)"><text class="b">238B3</text><text class="t" y="7">W14X22 ( 25 )</text></g>
<g transform="translate(1197,692) rotate(-90)"><text class="b">241B1</text><text class="t" y="7">W14X22 ( 25 )</text></g>
<g transform="translate(1237,667) rotate(-90)"><text class="b">241B2</text><text class="t" y="7">W16X26</text></g>
<text class="t" transform="translate(1028,480) rotate(-90)">TYP</text><text class="t" transform="translate(1130,480) rotate(-90)">TYP</text>
<g class="k">
<line x1="996" y1="375" x2="1040" y2="375"/><line x1="996" y1="362" x2="996" y2="402"/><line x1="1157" y1="425" x2="1195" y2="425"/><line x1="1216" y1="485" x2="1216" y2="524"/>
<line x1="1246" y1="605" x2="1283" y2="605"/><line x1="954" y1="627" x2="994" y2="627"/>
<line x1="1057" y1="435" x2="1030" y2="465"/><line x1="1171" y1="448" x2="1157" y2="463"/><line x1="1232" y1="471" x2="1243" y2="522"/><line x1="1260" y1="501" x2="1248" y2="522"/><line x1="1160" y1="383" x2="1155" y2="400"/>
<line x1="968" y1="689" x2="993" y2="718"/><line x1="966" y1="711" x2="993" y2="720"/><line x1="1266" y1="693" x2="1248" y2="718"/><line x1="1263" y1="715" x2="1248" y2="720"/><line x1="1167" y1="727" x2="1157" y2="722"/><line x1="1265" y1="740" x2="1248" y2="723"/>
<polyline points="1023,470 1023,495 1037,495"/><polyline points="1124,470 1124,495 1115,495"/><polyline points="1025,625 1025,620"/><polyline points="1010,605 1030,605 1030,620"/><polyline points="1180,655 1180,670"/><polyline points="1208,640 1208,655 1228,655"/>
<line x1="1092" y1="722" x2="1092" y2="735"/>
</g>
<g class="k"><line x1="1326" y1="165" x2="1326" y2="732"/><line x1="1355" y1="165" x2="1355" y2="732"/></g>
<g class="t">
<text transform="translate(1323,245) rotate(-90)" text-anchor="middle">20'-0</text>
<text transform="translate(1323,362) rotate(-90)" text-anchor="middle">10'-6 1/2</text>
<text transform="translate(1323,433) rotate(-90)" text-anchor="middle">8'-1 1/2</text>
<text transform="translate(1323,494) rotate(-90)" text-anchor="middle">8'-0</text>
<text transform="translate(1323,547) rotate(-90)" text-anchor="middle">5'-10</text>
<text transform="translate(1323,650) rotate(-90)" text-anchor="middle">21'-1 5/8</text>
<text transform="translate(1351,440) rotate(-90)" text-anchor="middle">73'-7 5/8</text>
</g>
<g class="bub">
<rect x="1358" y="164" width="28" height="12" rx="6"/><rect x="1358" y="317" width="28" height="12" rx="6"/><rect x="1358" y="397" width="28" height="12" rx="6"/><rect x="1358" y="459" width="28" height="12" rx="6"/><rect x="1358" y="519" width="28" height="12" rx="6"/><rect x="1358" y="563" width="28" height="12" rx="6"/><rect x="1369" y="699" width="28" height="12" rx="6"/><rect x="1358" y="725" width="28" height="12" rx="6"/>
</g>
<g class="t" text-anchor="middle"><text x="1372" y="173">F.4</text><text x="1372" y="326">G.4</text><text x="1372" y="406">G.5</text><text x="1372" y="468">H.2</text><text x="1372" y="528">H.6</text><text x="1372" y="572">H.8</text><text x="1383" y="708">J.7</text><text x="1372" y="734">J.8</text></g>
<rect class="k" x="1437" y="549" width="80" height="40"/>
<text class="t" x="1445" y="562">LEGEND:-</text><text class="t" x="1450" y="580">= BRACING</text>
<polyline class="k" points="1445,571 1439,577 1445,583"/>

<g class="k">
<line x1="90" y1="771" x2="260" y2="771"/><line x1="994" y1="771" x2="1246" y2="771"/>
<line x1="90" y1="796" x2="1246" y2="796"/><line x1="90" y1="816" x2="1246" y2="816"/>
<line x1="118" y1="760" x2="118" y2="775"/><line x1="164" y1="760" x2="164" y2="775"/><line x1="197.5" y1="760" x2="197.5" y2="775"/><line x1="228.7" y1="760" x2="228.7" y2="775"/>
<line x1="1048" y1="760" x2="1048" y2="775"/><line x1="1102" y1="760" x2="1102" y2="775"/><line x1="1209" y1="760" x2="1209" y2="775"/>
<line x1="414.5" y1="740" x2="414.5" y2="827"/><line x1="538.5" y1="740" x2="538.5" y2="827"/><line x1="662.5" y1="740" x2="662.5" y2="827"/><line x1="786.5" y1="740" x2="786.5" y2="827"/><line x1="994" y1="740" x2="994" y2="827"/><line x1="1155" y1="740" x2="1155" y2="827"/><line x1="1246" y1="730" x2="1246" y2="827"/>
</g>
<g class="t" text-anchor="middle">
<text x="104" y="768">4'-6 1/2</text><text x="141" y="768">4'-6 1/2</text><text x="181" y="768">4'-6</text><text x="213" y="768">4'-6</text><text x="244" y="768">4'-3</text>
<text x="1021" y="768">7'-0</text><text x="1075" y="768">7'-0</text><text x="1128" y="768">7'-0</text><text x="1182" y="768">7'-0</text><text x="1227" y="768">4'-10</text>
<text x="172" y="793">22'-4</text><text x="276" y="793">3'-11 1/2</text><text x="352" y="793">16'-4</text><text x="477" y="793">16'-2</text><text x="600" y="793">16'-4</text><text x="724" y="793">16'-2</text><text x="848" y="793">16'-4</text><text x="950" y="793">11'-3 3/4</text><text x="1075" y="793">21'-0</text><text x="1200" y="793">11'-10</text>
<text x="660" y="813">151'-9 1/4</text>
</g>
<g class="bub">
<rect x="76" y="828" width="28" height="12" rx="6"/><rect x="276" y="828" width="28" height="12" rx="6"/><rect x="401" y="828" width="28" height="12" rx="6"/><rect x="524" y="828" width="28" height="12" rx="6"/><rect x="648" y="828" width="28" height="12" rx="6"/><rect x="772" y="828" width="28" height="12" rx="6"/><rect x="896" y="828" width="28" height="12" rx="6"/><rect x="980" y="828" width="28" height="12" rx="6"/><rect x="1141" y="828" width="28" height="12" rx="6"/><rect x="1236" y="828" width="20" height="12" rx="6"/>
<rect x="241" y="851" width="38" height="15" rx="7"/>
</g>
<g class="t" text-anchor="middle"><text x="90" y="837">J.9</text><text x="290" y="837">H.10</text><text x="415" y="837">H.11</text><text x="538" y="837">H.12</text><text x="662" y="837">H.13</text><text x="786" y="837">H.14</text><text x="910" y="837">H.15</text><text x="994" y="837">J.11</text><text x="1155" y="837">J.12</text><text x="1246" y="837">12</text>
<text x="260" y="863" style="font-size:9px">J.10</text></g>

<g transform="translate(510,873)">
<circle r="8" class="k"/><path d="M0,-16 L3,10 L0,6 L-3,10Z" fill="#000"/><line class="k" x1="-11" y1="0" x2="11" y2="0"/>
<text class="b" text-anchor="middle" y="3" style="font-size:9px">N</text>
</g>
<text class="t" x="512" y="899" text-anchor="middle">PLAN NORTH</text>
<text x="710" y="878" text-anchor="middle" style="font-size:12.5px;font-weight:bold">FILTER ROOM CEILING PLAN</text>
<line class="k" x1="562" y1="880.5" x2="860" y2="880.5"/>
<g class="t" text-anchor="middle"><text x="710" y="888">ALL POUR STOP ANGLE PROFILES SHALL BE  L6X6X3/8 [U.N.O]</text><text x="710" y="898">T.O.S EL:111'-0" [U.N.O]</text><text x="710" y="908">(REF:1/S-103)</text></g>
</g>
</svg>
</body></html>
